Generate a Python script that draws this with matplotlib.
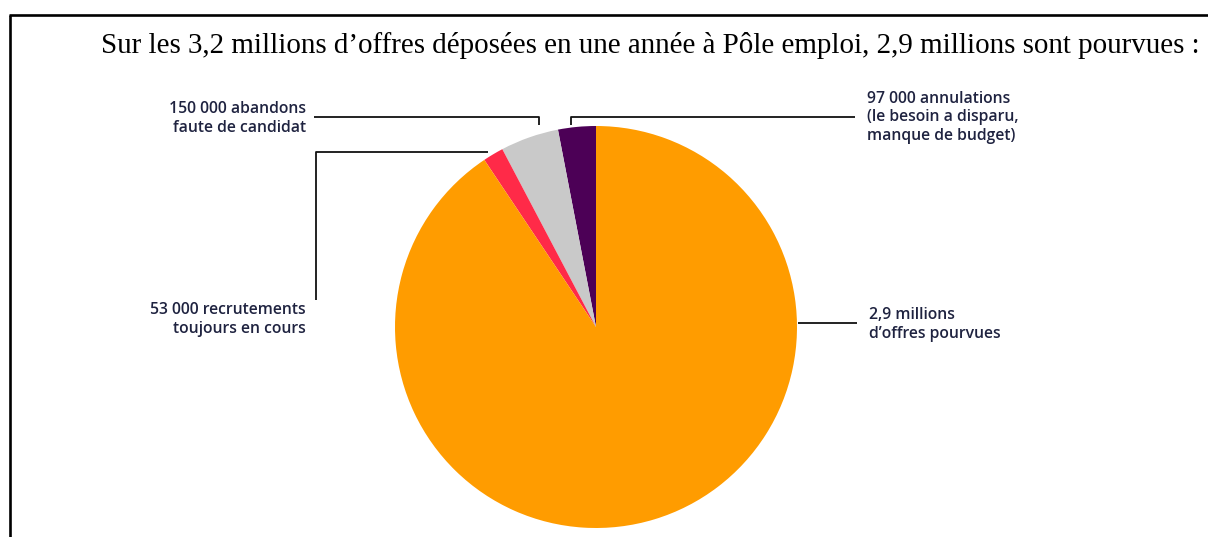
import matplotlib.pyplot as plt

# === DATA ===
categories = ["annulations", "abandons", "recrutements en cours", "offres pourvues"]
values = [97000, 150000, 53000, 2900000]
colors = ["#4c0056", "#c9c9c9", "#ff2a48", "#ff9c00"]
labels = [
    "97 000 annulations\n(le besoin a disparu,\nmanque de budget)",
    "150 000 abandons\nfaute de candidat",
    "53 000 recrutements\ntoujours en cours",
    "2,9 millions\nd’offres pourvues",
]
title = "Sur les 3,2 millions d’offres déposées en une année à Pôle emploi, 2,9 millions sont pourvues :"

# === LAYOUT (pixel coords, y from top) ===
W, H = 1208, 537
CX, CY, R = 596, 327, 201
TXT_COLOR = "#1f2340"
LBL_FONT = dict(family="Open Sans", weight="semibold", size=11.3, color=TXT_COLOR, linespacing=1.22)

# label anchor (x, last-line baseline y, ha) and leader line per category
label_pos = [(867, 140, "left"), (306, 132, "right"), (306, 333, "right"), (869, 338, "left")]
leaders = [
    [(855, 117), (571, 117), (571, 125)],
    [(314, 117), (539, 117), (539, 125)],
    [(488, 152), (316, 152), (316, 300)],
    [(798, 323), (857, 323)],
]


def py(y):
    return H - y


fig = plt.figure(figsize=(W / 100, H / 100), dpi=100)
ax = fig.add_axes([0, 0, 1, 1])

ax.pie(values, colors=colors, startangle=90, counterclock=True,
       center=(CX, py(CY)), radius=R, wedgeprops=dict(linewidth=0))
ax.set_xlim(0, W)
ax.set_ylim(0, H)
ax.set_aspect("equal")
ax.axis("off")

# frame (top and left edges only, the rest is cropped)
ax.plot([9, W], [py(15), py(15)], color="black", lw=1.9, solid_capstyle="butt")
ax.plot([10, 10], [py(15), 0], color="black", lw=1.9, solid_capstyle="butt")

ax.text(101, py(53), title, family="Liberation Serif", size=20.9,
        ha="left", va="baseline", color="black")

for lab, (x, y, ha), pts in zip(labels, label_pos, leaders):
    ax.text(x, py(y), lab, ha=ha, va="baseline", **LBL_FONT)
    xs = [p[0] for p in pts]
    ys = [py(p[1]) for p in pts]
    ax.plot(xs, ys, color="#111111", lw=1.3, solid_capstyle="butt")

fig.savefig("out.png", dpi=100)
